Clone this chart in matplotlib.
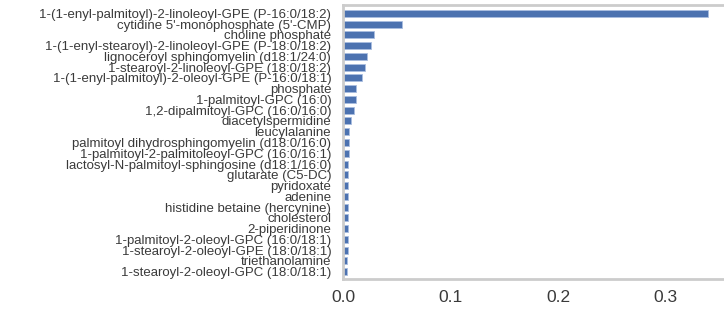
import matplotlib
matplotlib.use("Agg")
import matplotlib.pyplot as plt

# metabolites, top to bottom
names = [
    "1-(1-enyl-palmitoyl)-2-linoleoyl-GPE (P-16:0/18:2)",
    "cytidine 5'-monophosphate (5'-CMP)",
    "choline phosphate",
    "1-(1-enyl-stearoyl)-2-linoleoyl-GPE (P-18:0/18:2)",
    "lignoceroyl sphingomyelin (d18:1/24:0)",
    "1-stearoyl-2-linoleoyl-GPE (18:0/18:2)",
    "1-(1-enyl-palmitoyl)-2-oleoyl-GPE (P-16:0/18:1)",
    "phosphate",
    "1-palmitoyl-GPC (16:0)",
    "1,2-dipalmitoyl-GPC (16:0/16:0)",
    "diacetylspermidine",
    "leucylalanine",
    "palmitoyl dihydrosphingomyelin (d18:0/16:0)",
    "1-palmitoyl-2-palmitoleoyl-GPC (16:0/16:1)",
    "lactosyl-N-palmitoyl-sphingosine (d18:1/16:0)",
    "glutarate (C5-DC)",
    "pyridoxate",
    "adenine",
    "histidine betaine (hercynine)",
    "cholesterol",
    "2-piperidinone",
    "1-palmitoyl-2-oleoyl-GPC (16:0/18:1)",
    "1-stearoyl-2-oleoyl-GPE (18:0/18:1)",
    "triethanolamine",
    "1-stearoyl-2-oleoyl-GPC (18:0/18:1)",
]
importance = [
    0.339, 0.0546, 0.0292, 0.0258, 0.0226, 0.0202, 0.0174, 0.0124,
    0.0121, 0.0102, 0.0077, 0.0059, 0.0055, 0.0052, 0.0050, 0.0050,
    0.0049, 0.0049, 0.0049, 0.0048, 0.0046, 0.0045, 0.0044, 0.0040,
    0.0036,
]
xticks = [0.0, 0.1, 0.2, 0.3]

plt.rcParams["font.family"] = ["Liberation Sans", "DejaVu Sans"]

fig = plt.figure(figsize=(7.24, 3.17), dpi=100)
ax = fig.add_axes([343 / 724, 38 / 317, 1 - 343 / 724, 274 / 317])

pos = list(range(len(names)))
ax.barh(pos, importance, height=0.65, color="#4C72B0",
        edgecolor="#a9bde0", linewidth=0.6)

ax.set_ylim(len(names) - 1 + 0.68, -0.77)
ax.set_xlim(0, 0.354)
ax.set_yticks(pos)
ax.set_yticklabels(names, fontsize=9.5, color="#3a3a3a")
ax.set_xticks(xticks)
ax.set_xticklabels([f"{t:.1f}" for t in xticks], fontsize=12.5, color="#3a3a3a")
ax.tick_params(axis="both", length=0)
ax.tick_params(axis="y", pad=8.5)
ax.tick_params(axis="x", pad=8)

for side in ["left", "top", "bottom"]:
    ax.spines[side].set_color("#cccccc")
    ax.spines[side].set_linewidth(2.0)
ax.spines["right"].set_visible(False)

fig.savefig("out.png", dpi=100)
